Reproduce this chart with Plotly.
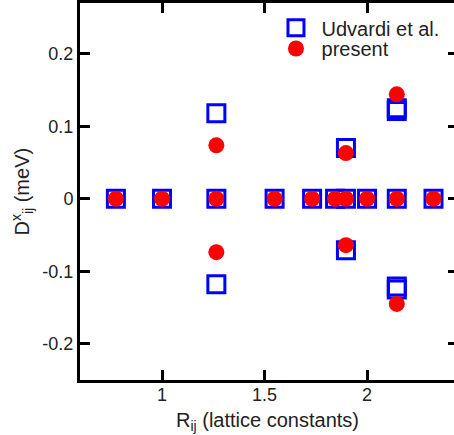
import plotly.graph_objects as go

# Udvardi et al. (open blue squares)
r_udvardi = [0.775, 1.0, 1.265, 1.265, 1.265, 1.549, 1.732, 1.844, 1.897, 1.897, 1.897,
             2.0, 2.145, 2.145, 2.145, 2.145, 2.145, 2.324]
d_udvardi = [0.0, 0.0, 0.118, 0.0, -0.118, 0.0, 0.0, 0.0, 0.070, 0.0, -0.071,
             0.0, 0.125, 0.121, 0.0, -0.121, -0.125, 0.0]

# present (filled red circles)
r_present = [0.775, 1.0, 1.265, 1.265, 1.265, 1.549, 1.732, 1.844, 1.897, 1.897, 1.897,
             2.0, 2.145, 2.145, 2.145, 2.324]
d_present = [0.0, 0.0, 0.0737, 0.0, -0.0737, 0.0, 0.0, 0.0, 0.063, 0.0, -0.064,
             0.0, 0.144, 0.0, -0.145, 0.0]

x_ticks = [1, 1.5, 2]
x_ticktext = ["1", "1.5", "2"]
y_ticks = [0.2, 0.1, 0, -0.1, -0.2]
y_ticktext = ["0.2", "0.1", "0", "-0.1", "-0.2"]

FONT = "Liberation Sans"
TXT = "#222222"

fig = go.Figure()
fig.add_trace(go.Scatter(
    x=r_udvardi, y=d_udvardi, mode="markers", name="\u00a0Udvardi et al.",
    marker=dict(symbol="square-open", size=17, color="#0000ff",
                line=dict(width=3, color="#0000ff")),
    legend="legend",
))
fig.add_trace(go.Scatter(
    x=r_present, y=d_present, mode="markers", name="\u00a0present",
    marker=dict(symbol="circle", size=16, color="#ff0000", line=dict(width=0)),
    legend="legend2",
))
# invisible trace carrying the right-side ticks
fig.add_trace(go.Scatter(x=[1.0], y=[0.0], yaxis="y2", mode="markers",
                         marker=dict(size=1, opacity=0), showlegend=False, hoverinfo="skip"))

axis_common = dict(showgrid=False, zeroline=False, showline=True, linecolor="black",
                   linewidth=3, ticks="inside", tickcolor="black", tickwidth=2.5,
                   ticklen=10, tickfont=dict(family=FONT, size=18, color=TXT))

fig.update_layout(
    width=454, height=435,
    margin=dict(l=80, r=0, t=3, b=55),
    paper_bgcolor="white", plot_bgcolor="white",
    font=dict(family=FONT, size=18, color=TXT),
    xaxis=dict(range=[0.6, 2.424], tickvals=x_ticks, ticktext=x_ticktext,
               mirror="ticks", ticklabelstandoff=-4, **axis_common),
    yaxis=dict(range=[-0.25, 0.27], tickvals=y_ticks, ticktext=y_ticktext,
               **axis_common),
    yaxis2=dict(range=[-0.25, 0.27], overlaying="y", anchor="x", side="right",
                tickvals=y_ticks, showticklabels=False,
                showgrid=False, zeroline=False, showline=False,
                ticks="inside", ticklen=6, tickwidth=2.5, tickcolor="black"),
    legend=dict(x=0.524, y=0.986, xanchor="left", yanchor="top", bgcolor="rgba(0,0,0,0)",
                font=dict(family=FONT, size=20, color=TXT), itemsizing="trace"),
    legend2=dict(x=0.524, y=0.931, xanchor="left", yanchor="top", bgcolor="rgba(0,0,0,0)",
                 font=dict(family=FONT, size=20, color=TXT), itemsizing="trace"),
    annotations=[
        dict(text="R<sub>ij</sub> (lattice constants)", x=0.5, y=-0.11, xref="paper",
             yref="paper", xanchor="center", yanchor="middle", showarrow=False,
             font=dict(family=FONT, size=20, color=TXT)),
        dict(text="D<sup>x</sup><sub>ij</sub> (meV)", x=-0.155, y=0.5, xref="paper",
             yref="paper", xanchor="center", yanchor="middle", showarrow=False,
             textangle=-90, font=dict(family=FONT, size=20, color=TXT)),
    ],
)

fig.write_html("out.html", config={"displayModeBar": False},
               post_script="document.body.style.margin='0';document.body.style.overflow='hidden';")
